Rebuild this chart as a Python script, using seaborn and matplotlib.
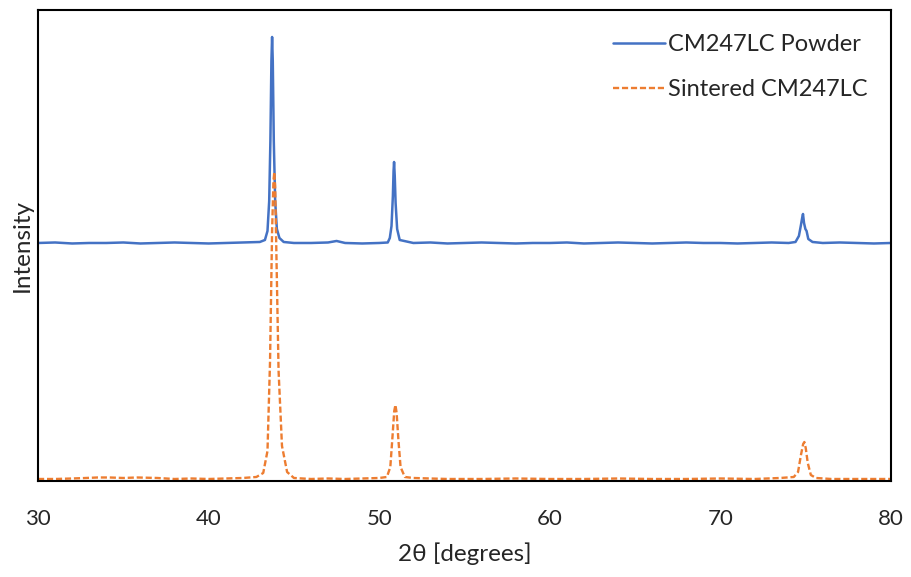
import numpy as np
import pandas as pd
import matplotlib
matplotlib.use('Agg')
import matplotlib.pyplot as plt
import seaborn as sns

# 2-theta positions and intensities (arbitrary units)
powder_x = [30.0, 31.0, 32.0, 33.0, 34.0, 35.0, 36.0, 37.0, 38.0, 39.0, 40.0, 41.0, 42.0, 43.0,
            43.3, 43.45, 43.55, 43.62, 43.68, 43.72, 43.76, 43.82, 43.9, 44.0, 44.15, 44.4,
            45.0, 46.0, 47.0, 47.5, 48.0, 49.0, 50.0, 50.5,
            50.62, 50.72, 50.8, 50.84, 50.87, 50.91, 50.96, 51.05, 51.2,
            52.0, 53.0, 54.0, 55.0, 56.0, 57.0, 58.0, 59.0, 60.0, 61.0, 62.0, 63.0, 64.0,
            65.0, 66.0, 67.0, 68.0, 69.0, 70.0, 71.0, 72.0, 73.0, 74.0,
            74.4, 74.6, 74.72, 74.8, 74.84, 74.9, 74.98, 75.05, 75.15, 75.4,
            76.0, 77.0, 78.0, 79.0, 80.0]
powder_y = [238, 238.5, 237.5, 238, 238, 238.5, 237.5, 238, 238.5, 238, 237.5, 238, 238.5, 239,
            241, 250, 280, 340, 420, 444, 420, 340, 280, 252, 243, 239,
            238, 238, 238.5, 240, 238, 237.5, 238, 238.5,
            243, 255, 285, 310, 319, 305, 278, 252, 241,
            238, 238.5, 237.5, 238, 238.5, 238, 237.5, 238, 238, 238.5, 237.5, 238, 238.5,
            238, 237.5, 238, 238.5, 238, 238, 237.5, 238, 238.5, 238,
            239, 245, 256, 264, 267, 258, 252, 250, 242, 239,
            238, 238.5, 238, 237.5, 238]

sintered_x = [30.0, 31.0, 32.0, 32.8, 33.5, 34.2, 35.0, 35.8, 37.0, 38.0, 39.0, 40.0, 41.0, 42.0, 42.8,
              43.2, 43.45, 43.6, 43.72, 43.8, 43.85, 43.9, 43.98, 44.1, 44.3, 44.6,
              45.0, 46.0, 47.0, 48.0, 49.0, 50.0, 50.45,
              50.65, 50.78, 50.88, 50.95, 51.02, 51.12, 51.25, 51.5,
              52.0, 54.0, 56.0, 58.0, 60.0, 62.0, 64.0, 66.0, 68.0, 70.0, 72.0, 73.5, 74.3,
              74.55, 74.72, 74.85, 74.92, 75.0, 75.12, 75.3, 75.6,
              76.5, 78.0, 80.0]
sintered_y = [2, 2, 2.5, 3, 3.5, 3.5, 3, 3.5, 3, 2, 2.5, 2, 2.5, 3, 4,
              8, 30, 120, 250, 300, 309, 295, 220, 110, 35, 9,
              3, 2, 2.5, 2, 2.5, 3, 4,
              14, 45, 70, 76, 68, 42, 14, 4,
              3, 2, 2, 2.5, 2, 2, 2.5, 2, 2, 2.5, 2, 3, 4,
              9, 26, 37, 39, 33, 18, 6, 3,
              2, 2, 2]

series_labels = ['CM247LC Powder', 'Sintered CM247LC']
x_ticks = [30, 40, 50, 60, 70, 80]

sns.set_style('white')
plt.rcParams['font.family'] = ['Lato', 'DejaVu Sans']

fig = plt.figure(figsize=(9.12, 5.77), dpi=100)
ax = fig.add_axes([0.0417, 0.1664, 0.9353, 0.8163])

df1 = pd.DataFrame({'x': powder_x, 'y': powder_y})
df2 = pd.DataFrame({'x': sintered_x, 'y': sintered_y})

sns.lineplot(data=df1, x='x', y='y', ax=ax, color='#4472C4', linewidth=1.8,
             label=series_labels[0])
sns.lineplot(data=df2, x='x', y='y', ax=ax, color='#ED7D31', linewidth=1.7,
             linestyle=(0, (2.6, 1.2)), label=series_labels[1])

ax.set_xlim(30, 80)
ax.set_ylim(0, 471)
ax.set_xticks(x_ticks)
ax.set_yticks([])
ax.tick_params(axis='x', length=0, pad=20, labelsize=16)
ax.set_xlabel('2θ [degrees]', fontsize=17.5, labelpad=10)
ax.set_ylabel('Intensity', fontsize=17.5, labelpad=4)

for s in ax.spines.values():
    s.set_color('black')
    s.set_linewidth(1.5)

ax.legend(loc='upper right', frameon=False, fontsize=17, labelspacing=1.02,
          handlelength=2.2, handletextpad=0.15, borderaxespad=0.3,
          bbox_to_anchor=(0.992, 0.984))

fig.savefig('out.png', dpi=100)
